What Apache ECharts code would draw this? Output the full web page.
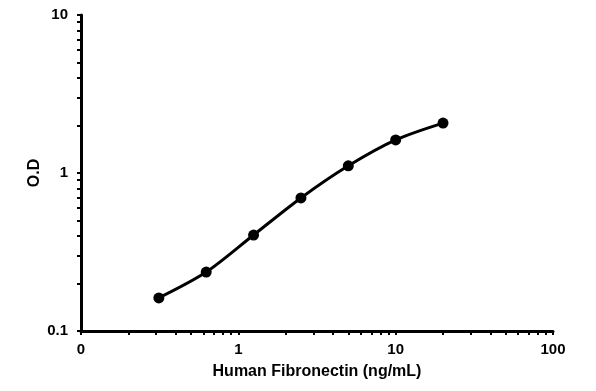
<!DOCTYPE html>
<html><head><meta charset="utf-8">
<script src="https://cdn.jsdelivr.net/npm/echarts@6/dist/echarts.min.js"></script>
<style>html,body{margin:0;padding:0;background:#fff}#c{width:596px;height:391px}</style>
</head><body><div id="c"></div>
<script>
const concentrations = [0.3125, 0.625, 1.25, 2.5, 5, 10, 20];
const odValues = [0.162, 0.236, 0.405, 0.695, 1.11, 1.62, 2.07];
const xTickLabels = ['0', '1', '10', '100'];
const yTickLabels = ['0.1', '1', '10'];
const xTitle = 'Human Fibronectin (ng/mL)';
const yTitle = 'O.D';

function logTicks(lo, hi) {
  const out = [];
  for (let d = lo; d < hi * 0.999; d *= 10) {
    for (let k = 1; k < 10; k++) out.push(+(d * k).toPrecision(3));
  }
  out.push(hi);
  return out;
}
const xMajor = [0.1, 1, 10, 100];
const yMajor = [0.1, 1, 10];
const font = '"Liberation Sans", Arial, sans-serif';

const chart = echarts.init(document.getElementById('c'));
chart.setOption({
  animation: false,
  backgroundColor: '#fff',
  grid: { left: 81, right: 43, top: 15, bottom: 60, containLabel: false },
  xAxis: {
    type: 'log', logBase: 10, min: 0.1, max: 100,
    name: xTitle, nameLocation: 'middle', nameGap: 33, nameMoveOverlap: false,
    nameTextStyle: { fontFamily: font, fontWeight: 'bold', fontSize: 16, color: '#000' },
    axisLine: { onZero: false, lineStyle: { color: '#000', width: 3 } },
    axisTick: { show: true, length: 4, inside: false, lineStyle: { color: '#000', width: 2 }, customValues: logTicks(0.1, 100) },
    axisLabel: {
      margin: 11, fontFamily: font, fontWeight: 'bold', fontSize: 15, color: '#000',
      customValues: xMajor,
      formatter: v => xTickLabels[xMajor.findIndex(m => Math.abs(m - v) / m < 1e-6)] ?? ''
    },
    splitLine: { show: false }, minorTick: { show: false }
  },
  yAxis: {
    type: 'log', logBase: 10, min: 0.1, max: 10,
    name: yTitle, nameLocation: 'middle', nameGap: 38, nameRotate: 90, nameMoveOverlap: false,
    nameTextStyle: { fontFamily: font, fontWeight: 'bold', fontSize: 16, color: '#000' },
    axisLine: { onZero: false, lineStyle: { color: '#000', width: 3 } },
    axisTick: { show: true, length: 4, inside: false, lineStyle: { color: '#000', width: 2 }, customValues: logTicks(0.1, 10) },
    axisLabel: {
      margin: 13, fontFamily: font, fontWeight: 'bold', fontSize: 15, color: '#000',
      customValues: yMajor,
      formatter: v => yTickLabels[yMajor.findIndex(m => Math.abs(m - v) / m < 1e-6)] ?? ''
    },
    splitLine: { show: false }, minorTick: { show: false }
  },
  series: [{
    type: 'line',
    data: concentrations.map((c, i) => [c, odValues[i]]),
    smooth: 0.3,
    symbol: 'circle', symbolSize: 11,
    lineStyle: { color: '#000', width: 3 },
    itemStyle: { color: '#000' }
  }]
});
</script></body></html>
